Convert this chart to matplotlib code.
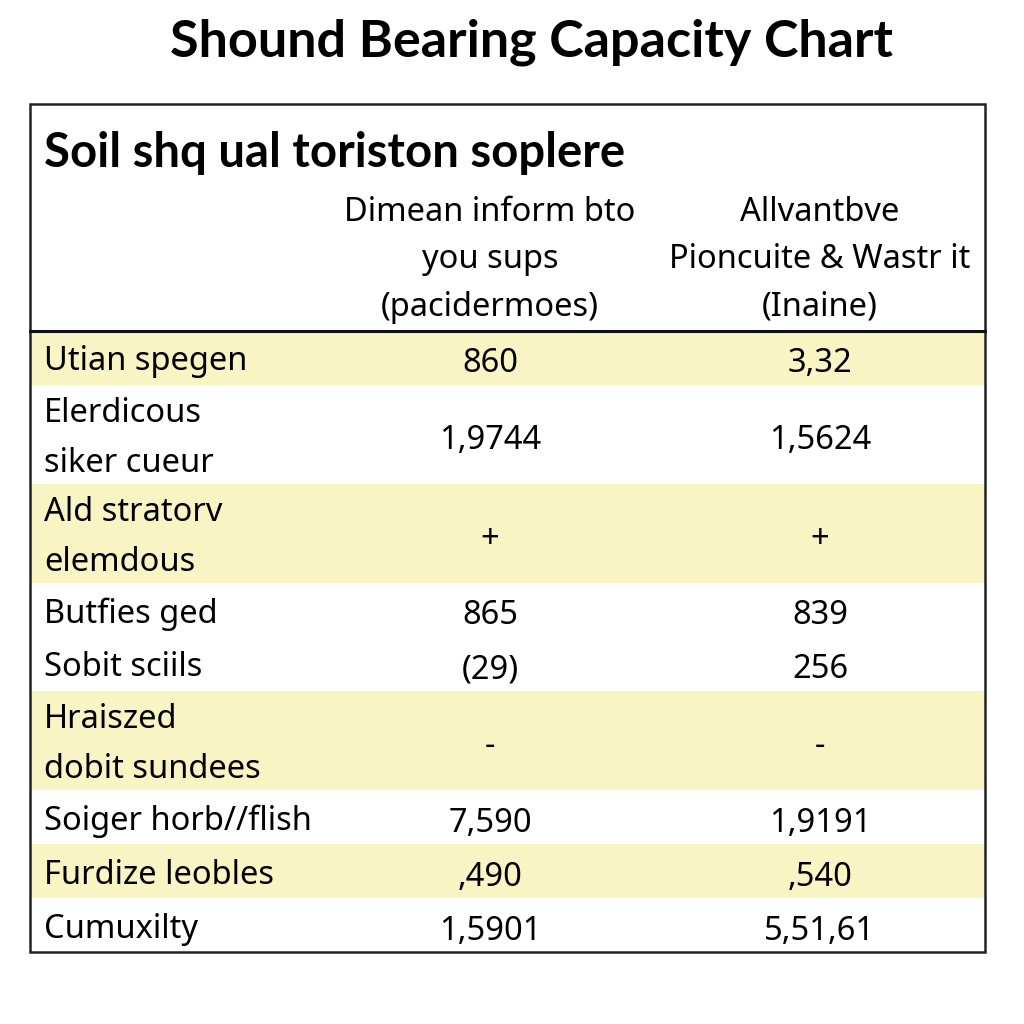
import matplotlib.pyplot as plt
from matplotlib.patches import Rectangle

# Table content
title = "Shound Bearing Capacity Chart"
header_label = "Soil shq ual toriston soplere"
col_headers = ["Dimean inform bto\nyou sups\n(pacidermoes)",
               "Allvantbve\nPioncuite & Wastr it\n(Inaine)"]
row_labels = ["Utian spegen", "Elerdicous\nsiker cueur", "Ald stratorv\nelemdous",
              "Butfies ged", "Sobit sciils", "Hraiszed\ndobit sundees",
              "Soiger horb//flish", "Furdize leobles", "Cumuxilty"]
col1_values = ["860", "1,9744", "+", "865", "(29)", "-", "7,590", ",490", "1,5901"]
col2_values = ["3,32", "1,5624", "+", "839", "256", "-", "1,9191", ",540", "5,51,61"]
row_shaded = [True, False, True, False, False, True, False, True, False]

YELLOW = "#f9f4c3"
body_font = "Noto Sans"

fig = plt.figure(figsize=(10.24, 10.24), dpi=100)
ax = fig.add_axes([0, 0, 1, 1])
ax.set_xlim(0, 1024)
ax.set_ylim(1024, 0)
ax.axis("off")

left, right, top, bottom = 30, 985, 104, 952
header_bottom = 331
col_x = [490, 820]

ax.text(531, 42, title, ha="center", va="center", fontsize=37.5,
        fontweight="bold", family="Lato")

# body rows
single_h, double_h = 54, 99
y = header_bottom
for label, v1, v2, shaded in zip(row_labels, col1_values, col2_values, row_shaded):
    h = double_h if "\n" in label else single_h
    if shaded:
        ax.add_patch(Rectangle((left, y), right - left, h, facecolor=YELLOW,
                               edgecolor="none", zorder=1))
    yc = y + h / 2
    ax.text(left + 14, yc + 4, label, ha="left", va="center", fontsize=23.5,
            family=body_font, linespacing=1.68, zorder=3)
    ax.text(col_x[0], yc + 6, v1, ha="center", va="center", fontsize=23.5,
            family=body_font, zorder=3)
    ax.text(col_x[1], yc + 6, v2, ha="center", va="center", fontsize=23.5,
            family=body_font, zorder=3)
    y += h

# header
ax.text(left + 14, 153, header_label, ha="left", va="center", fontsize=34,
        fontweight="bold", family="Lato", zorder=3)
for x, txt in zip(col_x, col_headers):
    ax.text(x, 260, txt, ha="center", va="center", fontsize=23.5,
            family=body_font, linespacing=1.58, zorder=3)

# borders
ax.add_patch(Rectangle((left, top), right - left, bottom - top, facecolor="none",
                       edgecolor="#222222", linewidth=1.8, zorder=4))
ax.plot([left, right], [header_bottom, header_bottom], color="#111111",
        linewidth=2.2, zorder=4)

fig.savefig("out.png", dpi=100)
